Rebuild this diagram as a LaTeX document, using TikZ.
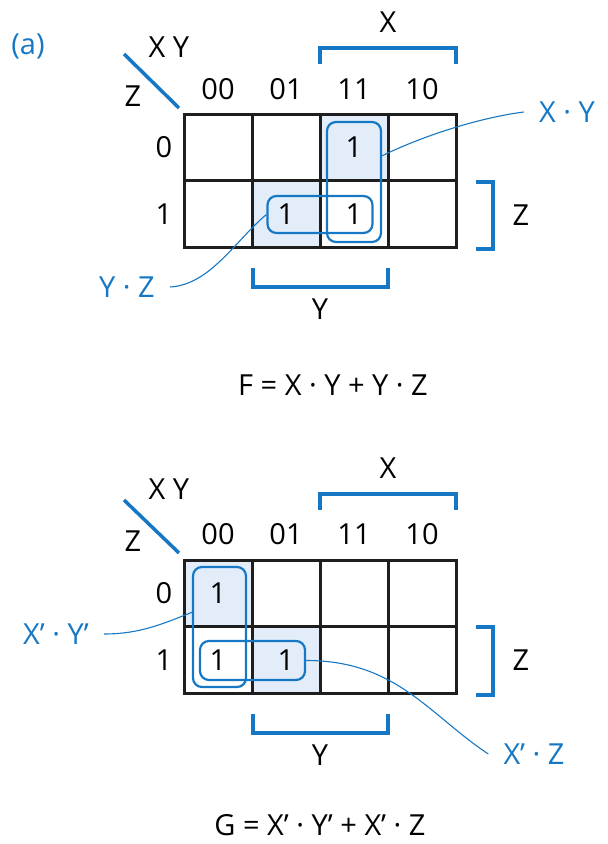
\documentclass[tikz,border=0pt]{standalone}
\usepackage{fontspec}
\setmainfont{Open Sans}
\usepackage{tikz}
\usetikzlibrary{positioning,calc,backgrounds}
\definecolor{kmapblue}{RGB}{22, 120, 196}
\definecolor{kmapshade}{RGB}{226, 237, 249}
\definecolor{kmapgrid}{RGB}{30, 30, 30}
\tikzset{
  txt/.style={font=\fontsize{29}{34}\selectfont, inner sep=1pt},
  bluetxt/.style={txt, text=kmapblue},
  termlbl/.style={txt, text=kmapblue, inner xsep=15pt},
  kcell/.style={draw=kmapgrid, line width=3pt, minimum width=68pt, minimum height=66.5pt, inner sep=0pt, outer sep=0pt},
  kloop/.style={draw=kmapblue, line width=2.2pt, rounded corners=9pt, inner sep=0pt},
  bracket/.style={draw=kmapblue, line width=4.5pt},
  leader/.style={draw=kmapblue, line width=1.1pt},
  diag/.style={draw=kmapblue, line width=3.5pt}
}

\begin{document}
\begin{tikzpicture}[x=1pt, y=-1pt]
    \useasboundingbox (0,0) rectangle (608,844);

    % map of F
    \node[bluetxt] (tag) at (28,46) {(a)};
    \node[txt] (fxy) at (169,47) {X Y};
    \node[txt] (fz) at (133,96) {Z};
    \draw[diag] (124,54) -- (179,108);
    \foreach \c/\t in {0/00,1/01,2/11,3/10}
        \node[txt] (fh\c) at ({218+68*\c},89) {\t};
    \foreach \r in {0,1} {
        \node[txt] (fr\r) at (164,{147.25+66.5*\r}) {\r};
        \foreach \c in {0,...,3}
            \node[kcell] (f\r\c) at ({218+68*\c},{147.25+66.5*\r}) {};
    }
    \begin{scope}[on background layer]
        \fill[kmapshade] (f02.north west) rectangle (f02.south east);
        \fill[kmapshade] (f11.north west) rectangle (f11.south east);
    \end{scope}
    \node[txt] (f02v) at (f02) {1};
    \node[txt] (f11v) at (f11) {1};
    \node[txt] (f12v) at (f12) {1};

    \node[kloop, minimum width=54pt, minimum height=120pt] (fxyloop) at (354,182) {};
    \node[kloop, minimum width=105pt, minimum height=37pt] (fyzloop) at (320,214.5) {};

    \draw[bracket] (320,64) -- (320,48) -- (456,48) -- (456,64);
    \node[txt] (fxb) at (388,22) {X};
    \draw[bracket] (476,182) -- (493,182) -- (493,249) -- (476,249);
    \node[txt] (fzb) at (521,215) {Z};
    \draw[bracket] (253,268) -- (253,287) -- (388,287) -- (388,268);
    \node[txt] (fyb) at (320,309) {Y};

    \node[termlbl] (fxylbl) at (567,112) {X · Y};
    \node[termlbl] (fyzlbl) at (127,287) {Y · Z};
    \draw[leader] (fxyloop.43) .. controls +(45,-22) and +(-40,5) .. (fxylbl.west);
    \draw[leader] (fyzlbl.east) .. controls +(40,-2) and +(-30,25) .. (fyzloop.west);

    \node[txt] (feq) at (333,385) {F = X · Y + Y · Z};

    % map of G
    \begin{scope}[shift={(0,446)}]
        \node[txt] (gxy) at (169,43) {X Y};
        \node[txt] (gz) at (133,95) {Z};
        \draw[diag] (124,54) -- (179,107);
        \foreach \c/\t in {0/00,1/01,2/11,3/10}
            \node[txt] (gh\c) at ({218+68*\c},88) {\t};
        \foreach \r in {0,1} {
            \node[txt] (gr\r) at (164,{147.25+66.5*\r}) {\r};
            \foreach \c in {0,...,3}
                \node[kcell] (g\r\c) at ({218+68*\c},{147.25+66.5*\r}) {};
        }
        \begin{scope}[on background layer]
            \fill[kmapshade] (g00.north west) rectangle (g00.south east);
            \fill[kmapshade] (g11.north west) rectangle (g11.south east);
        \end{scope}
        \node[txt] (g00v) at (g00) {1};
        \node[txt] (g10v) at (g10) {1};
        \node[txt] (g11v) at (g11) {1};

        \node[kloop, minimum width=53pt, minimum height=120pt] (gxpyploop) at (219.5,181) {};
        \node[kloop, minimum width=105pt, minimum height=39pt] (gxpzloop) at (252.5,214.5) {};

        \draw[bracket] (320,64) -- (320,48) -- (456,48) -- (456,64);
        \node[txt] (gxb) at (388,22) {X};
        \draw[bracket] (476,181) -- (493,181) -- (493,249) -- (476,249);
        \node[txt] (gzb) at (521,214) {Z};
        \draw[bracket] (253,268) -- (253,287) -- (388,287) -- (388,268);
        \node[txt] (gyb) at (320,309) {Y};

        \node[termlbl] (gxpyplbl) at (56,188) {X’ · Y’};
        \node[termlbl] (gxpzlbl) at (534,308) {X’ · Z};
        \draw[leader] (gxpyplbl.east) .. controls +(35,0) and +(-30,12) .. (gxpyploop.152);
        \draw[leader] (gxpzloop.east) .. controls +(90,0) and +(-60,-40) .. (gxpzlbl.west);
    \end{scope}

    \node[txt] (geq) at (320,825) {G = X’ · Y’ + X’ · Z};
\end{tikzpicture}
\end{document}
